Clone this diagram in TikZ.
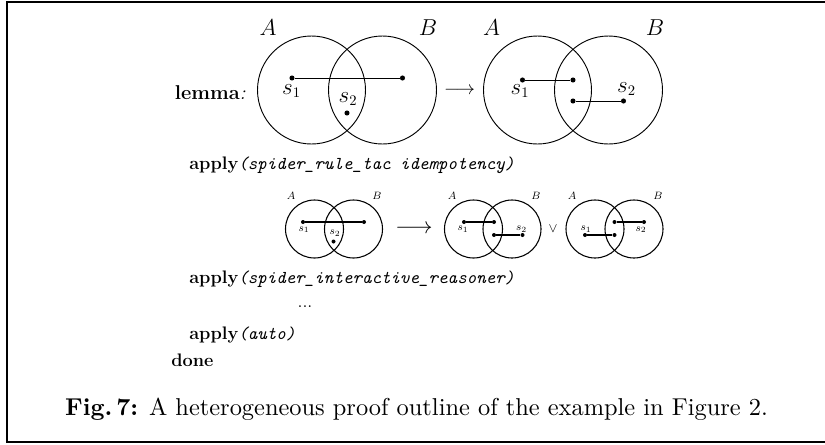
\documentclass[tikz,border=0pt]{standalone}
\usepackage{amsmath}
\usepackage{fontspec}
\usetikzlibrary{positioning}
\newcommand{\kw}[1]{\textbf{#1}}
\newcommand{\tacarg}[1]{{\ttfamily\itshape #1}}
\tikzset{
  zone/.style={draw, line width=0.7pt},
  szone/.style={draw, line width=0.8pt},
  bigdot/.style={circle, fill, inner sep=0pt, minimum size=3.8pt},
  smalldot/.style={circle, fill, inner sep=0pt, minimum size=3pt},
  leg/.style={line width=0.7pt},
  sleg/.style={line width=0.8pt},
  biglab/.style={inner sep=0pt, font=\fontsize{16}{18}\selectfont},
  smalllab/.style={inner sep=0pt, font=\fontsize{8.5}{10}\selectfont},
  isa/.style={inner sep=0pt, anchor=west, font=\fontsize{13.6}{16}\selectfont},
}
\begin{document}
\begin{tikzpicture}[x=0.75pt, y=-0.75pt]
    \useasboundingbox (0,0) rectangle (825,444);
    % frame
    \draw[line width=0.9pt] (840,2) -- (7,2) -- (7,442) -- (840,442);
    % row 1: lemma
    \node[inner sep=0pt, anchor=east, font=\fontsize{15}{17}\selectfont] (lemma) at (246,93) {\kw{lemma}\textit{:}};
    \draw[zone] (311.5,90) circle (54);
    \draw[zone] (382.5,90) circle (54);
    \node[biglab] (la) at (268,28) {$A$};
    \node[biglab] (lb) at (428,28) {$B$};
    \node[bigdot] (p1) at (292,78) {};
    \node[bigdot] (p2) at (402.5,78) {};
    \node[bigdot] (p3) at (347,113) {};
    \draw[leg] (p1) -- (p2);
    \node[biglab] (ls1) at (291.5,91) {$s_1$};
    \node[biglab] (ls2) at (348,99) {$s_2$};
    \node[inner sep=0pt, font=\fontsize{15}{17}\selectfont] (imp1) at (459.5,91) {$\longrightarrow$};
    \draw[zone] (537.5,90) circle (54);
    \draw[zone] (608.5,90) circle (54);
    \node[biglab] (ra) at (491.5,28) {$A$};
    \node[biglab] (rb) at (655,28) {$B$};
    \node[bigdot] (q1) at (522.5,80) {};
    \node[bigdot] (q2) at (573,80) {};
    \node[bigdot] (q3) at (573,101) {};
    \node[bigdot] (q4) at (623.5,101) {};
    \draw[leg] (q1) -- (q2);
    \draw[leg] (q3) -- (q4);
    \node[biglab] (rs1) at (520,91) {$s_1$};
    \node[biglab] (rs2) at (626.5,89) {$s_2$};
    % row 2: tactic step
    \node[isa] (app1) at (189,165) {\kw{apply}\tacarg{(spider\_rule\_tac idempotency)}};
    \draw[szone] (314.5,229) circle (29);
    \draw[szone] (353.5,229) circle (29);
    \node[smalllab] (ma) at (291,196) {$A$};
    \node[smalllab] (mb) at (377,196) {$B$};
    \node[smalldot] (u1) at (303,222) {};
    \node[smalldot] (u2) at (364,222) {};
    \node[smalldot] (u3) at (333.5,241.5) {};
    \draw[sleg] (u1) -- (u2);
    \node[smalllab] (ms1) at (304,229.5) {$s_1$};
    \node[smalllab] (ms2) at (335,233) {$s_2$};
    \node[inner sep=0pt, font=\fontsize{16}{18}\selectfont] (imp2) at (414,229) {$\longrightarrow$};
    \draw[szone] (473.5,229) circle (29);
    \draw[szone] (512,229) circle (29);
    \node[smalllab] (na) at (452,196) {$A$};
    \node[smalllab] (nb) at (536,196) {$B$};
    \node[smalldot] (v1) at (464,222) {};
    \node[smalldot] (v2) at (494,222) {};
    \node[smalldot] (v3) at (494,235) {};
    \node[smalldot] (v4) at (522.5,235) {};
    \draw[sleg] (v1) -- (v2);
    \draw[sleg] (v3) -- (v4);
    \node[smalllab] (ns1) at (463,229) {$s_1$};
    \node[smalllab] (ns2) at (521.5,229) {$s_2$};
    \node[inner sep=0pt, font=\fontsize{10}{12}\selectfont] (disj) at (553,229) {$\vee$};
    \draw[szone] (595,229) circle (29);
    \draw[szone] (634,229) circle (29);
    \node[smalllab] (oa) at (572,196) {$A$};
    \node[smalllab] (ob) at (658,196) {$B$};
    \node[smalldot] (w1) at (614.5,222) {};
    \node[smalldot] (w2) at (644,222) {};
    \node[smalldot] (w3) at (585,235) {};
    \node[smalldot] (w4) at (614.5,235) {};
    \draw[sleg] (w1) -- (w2);
    \draw[sleg] (w3) -- (w4);
    \node[smalllab] (os1) at (586,229) {$s_1$};
    \node[smalllab] (os2) at (641,229.5) {$s_2$};
    % rest of the proof
    \node[isa] (app2) at (189,279) {\kw{apply}\tacarg{(spider\_interactive\_reasoner)}};
    \node[inner sep=0pt, font=\fontsize{13.6}{16}\selectfont] (dots) at (305,307) {...};
    \node[isa] (app3) at (189,335) {\kw{apply}\tacarg{(auto)}};
    \node[isa] (done) at (171,360) {\kw{done}};
    % caption
    \node[inner sep=0pt, font=\fontsize{10}{12}\selectfont] (cap) at (416.5,409) {\scalebox{1.83}{\textbf{Fig.\,7:} A heterogeneous proof outline of the example in Figure 2.}};
\end{tikzpicture}
\end{document}
